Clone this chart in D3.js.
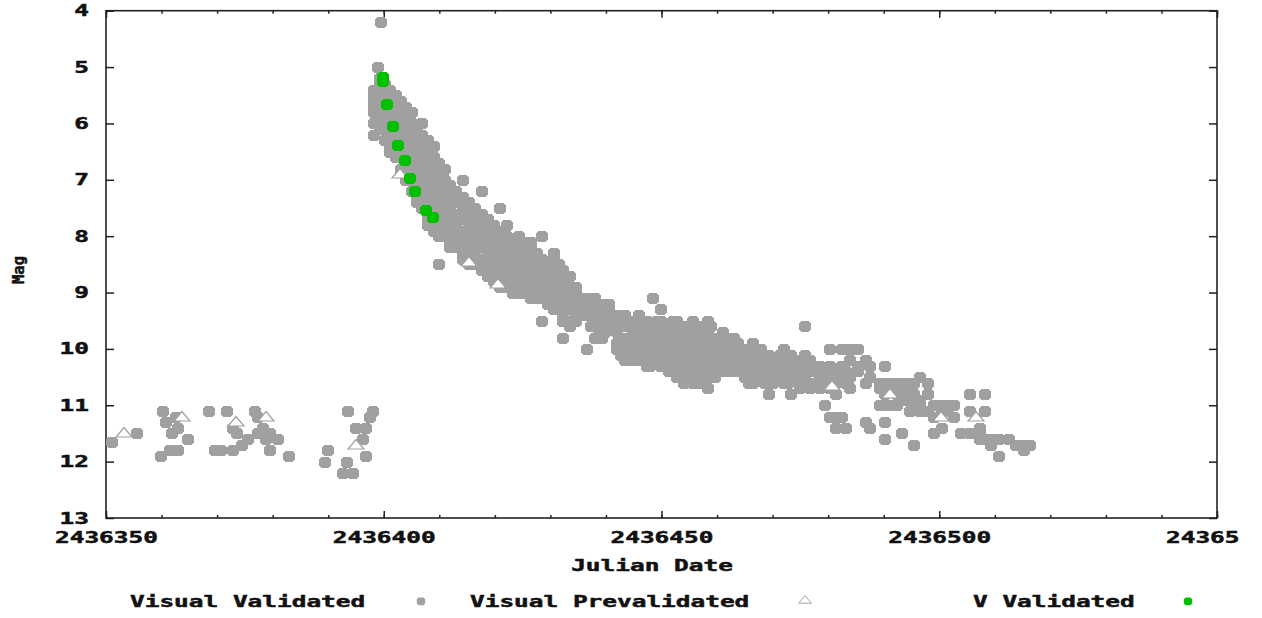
<!DOCTYPE html>
<html>
<head>
<meta charset="utf-8">
<script src="https://d3js.org/d3.v7.min.js"></script>
<style>
body { margin: 0; background: #fff; }
svg text { font-family: 'DejaVu Sans Mono', monospace; font-weight: bold; font-size: 15px; fill: #111; stroke: #111; stroke-width: 0.45px; }
</style>
</head>
<body>
<svg id="chart"></svg>
<script>
// day offsets are JD - 2436350
const JD0 = 2436350;

// Visual Validated: [day, [mags observed that night]]
const visualNights = [
  [1.1, [11.65]], [5.6, [11.5]], [9.9, [11.9]], [10.3, [11.1]], [10.8, [11.3]],
  [11.5, [11.8]], [11.9, [11.5]], [12.6, [11.2]], [13.0, [11.4, 11.8]], [14.8, [11.6]],
  [18.5, [11.1]], [19.6, [11.8]], [20.7, [11.8]], [21.8, [11.1]], [22.9, [11.4, 11.8]],
  [23.6, [11.5]], [24.5, [11.7]], [25.6, [11.6]], [26.8, [11.1]], [27.4, [11.2, 11.5]],
  [28.3, [11.4]], [28.8, [11.5, 11.6]], [29.5, [11.5, 11.8]], [31.0, [11.6]], [32.9, [11.9]],
  [39.4, [12.0]], [40.0, [11.8]], [42.7, [12.2]], [43.4, [12.0]], [43.6, [11.1]],
  [44.5, [12.2]], [45.0, [11.4]], [46.3, [11.6]], [46.8, [11.4, 11.9]], [47.5, [11.2]], [48.1, [11.1]],
  [48.2, [5.4, 5.5, 5.6, 5.7, 5.8, 6.0, 6.2]], [49.0, [5.0]], [49.5, [4.2]],
  [49.3, [5.2, 5.3, 5.4, 5.5, 5.6, 5.7, 5.8, 5.9, 6.1]],
  [50.3, [5.3, 5.5, 5.7, 5.9, 6.1, 6.3]],
  [51.2, [5.4, 5.6, 5.8, 6.0, 6.2, 6.4, 6.5]],
  [52.2, [5.5, 5.7, 5.9, 6.1, 6.3, 6.5, 6.6]],
  [53.1, [5.6, 5.8, 6.0, 6.2, 6.4, 6.6, 6.8]],
  [54.0, [5.7, 5.9, 6.1, 6.3, 6.5, 6.7, 6.9, 7.0]],
  [55.0, [5.8, 6.0, 6.2, 6.4, 6.6, 6.8, 7.0, 7.2]],
  [56.0, [6.1, 6.3, 6.5, 6.7, 6.9, 7.1, 7.3, 7.4]],
  [56.9, [6.0, 6.2, 6.4, 6.6, 6.8, 7.0, 7.2, 7.4, 7.5]],
  [58.0, [6.3, 6.5, 6.7, 6.9, 7.1, 7.3, 7.5, 7.7, 7.8]],
  [59.0, [6.4, 6.6, 6.8, 7.0, 7.2, 7.4, 7.6, 7.8, 7.9]],
  [60.0, [6.7, 6.9, 7.1, 7.3, 7.5, 7.7, 7.9, 8.0, 8.5]],
  [61.0, [6.8, 7.0, 7.2, 7.4, 7.6, 7.8, 8.0]],
  [62.0, [7.1, 7.3, 7.5, 7.7, 7.9, 8.1, 8.2]],
  [63.0, [7.2, 7.4, 7.6, 7.8, 8.0, 8.2]],
  [64.2, [7.0, 7.3, 7.5, 7.7, 7.9, 8.1, 8.3, 8.4]],
  [65.3, [7.4, 7.6, 7.8, 8.0, 8.2, 8.4, 8.5]],
  [65.9, [7.6, 7.8, 8.0, 8.2, 8.4]],
  [66.4, [7.5, 7.7, 7.9, 8.1, 8.3, 8.5]],
  [67.6, [7.2, 7.6, 7.8, 8.0, 8.2, 8.4, 8.6]],
  [68.1, [7.8, 8.0, 8.2, 8.4, 8.6]],
  [68.7, [7.7, 7.9, 8.1, 8.3, 8.5, 8.7]],
  [69.8, [7.8, 8.0, 8.2, 8.4, 8.6, 8.8]],
  [70.4, [8.0, 8.2, 8.4, 8.6, 8.8]],
  [71.0, [7.5, 7.9, 8.1, 8.3, 8.5, 8.7, 8.9]],
  [72.1, [7.8, 8.0, 8.2, 8.4, 8.6, 8.8, 8.9]],
  [72.7, [8.1, 8.3, 8.5, 8.7]],
  [73.2, [8.1, 8.3, 8.5, 8.7, 8.9, 9.0]],
  [74.4, [8.0, 8.2, 8.4, 8.6, 8.8, 9.0]],
  [75.0, [8.2, 8.4, 8.6, 8.8]],
  [75.5, [8.1, 8.3, 8.5, 8.7, 8.9, 9.0]],
  [76.5, [8.1, 8.2, 8.4, 8.6, 8.8, 9.0, 9.1]],
  [77.1, [8.4, 8.6, 8.8, 9.0]],
  [77.6, [8.3, 8.5, 8.7, 8.9, 9.1]],
  [78.4, [8.0, 8.4, 8.6, 8.8, 9.0, 9.1, 9.5]],
  [79.1, [8.6, 8.8, 9.0]],
  [79.6, [8.5, 8.7, 8.9, 9.1, 9.2]],
  [80.6, [8.3, 8.4, 8.6, 8.8, 9.0, 9.2, 9.3]],
  [81.5, [8.5, 8.7, 8.9, 9.1, 9.3]],
  [82.3, [8.6, 8.8, 9.0, 9.2, 9.4, 9.5, 9.8]],
  [83.5, [8.7, 8.9, 9.1, 9.3, 9.5, 9.6]],
  [84.6, [8.9, 9.0, 9.2, 9.4, 9.5]],
  [85.8, [9.1, 9.3, 9.4]],
  [86.6, [9.1, 9.2, 9.4, 10.0]],
  [87.3, [9.2, 9.4, 9.6]],
  [88.0, [9.1, 9.3, 9.5, 9.6, 9.8]],
  [88.7, [9.2, 9.4, 9.7]],
  [89.3, [9.2, 9.4, 9.6, 9.8]],
  [89.9, [9.3, 9.5, 9.7]],
  [90.5, [9.2, 9.3, 9.5]],
  [91.2, [9.4, 9.6]],
  [92.0, [9.5, 9.7, 9.9, 10.0]],
  [92.7, [9.4, 9.6, 9.8, 10.0, 10.1]],
  [93.4, [9.4, 9.6, 9.8, 10.0, 10.2]],
  [94.1, [9.6, 9.8, 10.0, 10.2]],
  [94.8, [9.5, 9.7, 9.9, 10.1]],
  [95.3, [9.6, 9.8, 10.0, 10.2]],
  [95.9, [9.4, 9.6, 9.8, 10.0, 10.2]],
  [96.6, [9.5, 9.7, 9.9, 10.1, 10.2]],
  [97.4, [9.5, 9.7, 9.9, 10.1, 10.3]],
  [98.0, [9.6, 9.8, 10.0, 10.2, 10.3]],
  [98.5, [9.1, 9.6, 9.8, 10.0, 10.2]],
  [99.2, [9.5, 9.7, 9.9, 10.1]],
  [99.9, [9.3, 9.5, 9.7, 9.9, 10.1, 10.3]],
  [100.6, [9.6, 9.8, 10.0, 10.2, 10.3]],
  [101.4, [9.6, 9.8, 10.0, 10.2, 10.4]],
  [102.1, [9.5, 9.7, 9.9, 10.1, 10.3, 10.4]],
  [102.8, [9.5, 9.7, 9.9, 10.1, 10.3, 10.5]],
  [103.4, [9.6, 9.8, 10.0, 10.2, 10.4]],
  [104.1, [9.6, 9.8, 10.0, 10.2, 10.4, 10.6]],
  [104.8, [9.7, 9.9, 10.1, 10.3, 10.5]],
  [105.6, [9.5, 9.7, 9.9, 10.1, 10.3, 10.5, 10.6]],
  [106.3, [9.6, 9.8, 10.0, 10.2, 10.4, 10.5]],
  [107.0, [9.6, 9.8, 10.0, 10.2, 10.4, 10.6]],
  [107.6, [9.7, 9.9, 10.1, 10.3, 10.5]],
  [108.3, [9.5, 9.7, 9.9, 10.1, 10.3, 10.5, 10.7]],
  [108.9, [9.6, 9.8, 10.0, 10.2, 10.4]],
  [109.6, [9.8, 10.0, 10.2, 10.4, 10.5]],
  [110.3, [9.8, 10.0, 10.2, 10.4]],
  [111.0, [9.7, 9.9, 10.1, 10.3, 10.4]],
  [111.7, [9.9, 10.1, 10.3]],
  [112.4, [9.8, 10.0, 10.2, 10.4]],
  [113.1, [9.8, 10.0, 10.2, 10.4]],
  [113.8, [9.9, 10.1, 10.3]],
  [114.4, [10.0, 10.2, 10.4]],
  [115.1, [10.0, 10.2, 10.4, 10.5]],
  [115.8, [10.0, 10.2, 10.4, 10.6]],
  [116.5, [9.9, 10.1, 10.3, 10.5, 10.6]],
  [117.2, [10.1, 10.3, 10.5]],
  [117.9, [10.0, 10.2, 10.4]],
  [118.6, [10.1, 10.2, 10.4, 10.6]],
  [119.3, [10.1, 10.3, 10.5, 10.8]],
  [120.0, [10.2, 10.4, 10.6]],
  [120.7, [10.2, 10.4, 10.5]],
  [121.4, [10.1, 10.3, 10.5]],
  [122.1, [10.0, 10.2, 10.4, 10.6]],
  [122.8, [10.2, 10.4, 10.6]],
  [123.4, [10.1, 10.3, 10.5, 10.8]],
  [124.2, [10.2, 10.3, 10.5]],
  [124.9, [10.2, 10.4, 10.6, 10.7]],
  [125.8, [9.6, 10.1, 10.3, 10.5]],
  [126.7, [10.2, 10.4, 10.6, 10.7]],
  [128.5, [10.3, 10.5, 10.7]],
  [129.4, [10.4, 10.6, 11.0]],
  [130.3, [10.0, 10.3, 10.5, 10.7, 11.2]],
  [131.5, [10.4, 10.6, 10.8, 11.2, 11.4]],
  [132.5, [10.0, 10.3, 10.5, 11.2]],
  [133.3, [10.4, 10.6, 11.4]],
  [134.0, [10.0, 10.2, 10.5, 10.7]],
  [135.4, [10.0, 10.3, 10.4]],
  [136.8, [10.2, 10.6, 11.3]],
  [137.5, [10.3, 10.5, 11.4]],
  [139.3, [10.6, 10.7, 11.0]],
  [140.2, [10.3, 10.6, 10.8, 11.0, 11.3, 11.6]],
  [141.1, [10.6, 10.7, 11.0]],
  [142.4, [10.6, 10.8, 11.0]],
  [143.3, [10.6, 10.8, 10.9, 11.5]],
  [144.7, [10.6, 10.8, 10.9, 11.1]],
  [145.5, [10.6, 10.8, 11.0, 11.7]],
  [146.5, [10.5, 10.9, 11.0, 11.1]],
  [148.0, [10.6, 10.8, 11.1]],
  [149.0, [11.0, 11.2, 11.5]],
  [150.5, [11.0, 11.1, 11.4]],
  [151.5, [11.0, 11.1]],
  [152.6, [11.0, 11.2]],
  [154.0, [11.5]],
  [155.5, [10.8, 11.1, 11.5]],
  [157.3, [11.4, 11.5, 11.6]],
  [158.3, [10.8, 11.1, 11.6]],
  [159.4, [11.6, 11.7]],
  [160.8, [11.6, 11.9]],
  [162.6, [11.6]],
  [163.8, [11.7]],
  [165.2, [11.7, 11.8]],
  [166.4, [11.7]]
];

// Visual Prevalidated: [day, mag]
const visualPrevalidated = [
  [3.2, 11.5], [13.7, 11.2], [23.4, 11.3], [28.8, 11.2], [45.0, 11.7],
  [52.9, 6.9], [65.3, 8.45], [70.6, 8.85], [130.7, 10.65], [141.1, 10.8],
  [150.3, 11.2], [156.6, 11.2]
];

// V Validated: [day, mag]
const vValidated = [
  [49.9, 5.17], [49.9, 5.25], [50.6, 5.65], [51.7, 6.05], [52.6, 6.38],
  [53.8, 6.65], [54.7, 6.97], [55.6, 7.19], [57.6, 7.53], [58.9, 7.66]
];

const xTickValues = [2436350, 2436400, 2436450, 2436500, 2436550];
const xTickLabels = ["2436350", "2436400", "2436450", "2436500", "24365"];
const yTickValues = [4, 5, 6, 7, 8, 9, 10, 11, 12, 13];

const W = 1262, H = 618;
const plotL = 106, plotR = 1217, plotT = 10.7, plotB = 518;
const CHAR_W = 14.7;
const GRAY = "#a0a0a0", GREEN = "#00c000", INK = "#222";

const svg = d3.select("#chart").attr("width", W).attr("height", H);

const x = d3.scaleLinear().domain([JD0, JD0 + 200]).range([plotL, plotR]);
const y = d3.scaleLinear().domain([4, 13]).range([plotT, plotB]);

const stretch = sel => sel.attr("textLength", function() { return this.textContent.length * CHAR_W; })
  .attr("lengthAdjust", "spacingAndGlyphs");

// axes: ticks pointing inward on all four sides
const minorX = d3.range(JD0, JD0 + 201, 10);
const noDomain = g => g.select(".domain").remove();
svg.append("g").attr("transform", `translate(0,${plotB})`)
  .call(d3.axisTop(x).tickValues(minorX).tickSize(3).tickFormat("")).call(noDomain);
svg.append("g").attr("transform", `translate(0,${plotT})`)
  .call(d3.axisBottom(x).tickValues(minorX).tickSize(3).tickFormat("")).call(noDomain);
svg.append("g").attr("transform", `translate(0,${plotB})`)
  .call(d3.axisTop(x).tickValues(xTickValues).tickSize(7).tickFormat("")).call(noDomain);
svg.append("g").attr("transform", `translate(0,${plotT})`)
  .call(d3.axisBottom(x).tickValues(xTickValues).tickSize(7).tickFormat("")).call(noDomain);
svg.append("g").attr("transform", `translate(${plotL},0)`)
  .call(d3.axisRight(y).tickValues(yTickValues).tickSize(8).tickFormat("")).call(noDomain);
svg.append("g").attr("transform", `translate(${plotR},0)`)
  .call(d3.axisLeft(y).tickValues(yTickValues).tickSize(8).tickFormat("")).call(noDomain);
svg.selectAll(".tick line").attr("stroke", INK).attr("stroke-width", 1.5);

svg.append("rect")
  .attr("x", plotL).attr("y", plotT)
  .attr("width", plotR - plotL).attr("height", plotB - plotT)
  .attr("fill", "none").attr("stroke", INK).attr("stroke-width", 1.6);

// tick labels
svg.append("g").selectAll("text").data(xTickValues).join("text")
  .attr("x", d => x(d) - 51).attr("y", 543)
  .text((d, i) => xTickLabels[i])
  .call(stretch);
svg.append("g").selectAll("text").data(yTickValues).join("text")
  .attr("x", 89).attr("y", d => y(d) + 5.5)
  .attr("text-anchor", "end")
  .text(d => d)
  .call(stretch);

svg.append("text").attr("x", 652).attr("y", 571).attr("text-anchor", "middle")
  .text("Julian Date").call(stretch);
svg.append("text").attr("transform", "translate(24,270) rotate(-90)")
  .attr("text-anchor", "middle").text("Mag")
  .attr("textLength", 28).attr("lengthAdjust", "spacingAndGlyphs");

// markers: blocky gnuplot-style dot and open triangle
const blob = "M-4,-5H4V-4H5V-3H6V4H5V5H4V6H-4V5H-5V4H-6V-3H-5V-4H-4Z";
const tri = "M0,-5.5L8,4H-8Z";

const visualPoints = visualNights.flatMap(([d, mags]) => mags.map(m => [d, m]));
const at = d => `translate(${Math.round(x(JD0 + d[0]))},${Math.round(y(d[1]))})`;

svg.append("g").attr("shape-rendering", "crispEdges")
  .selectAll("path").data(visualPoints).join("path")
  .attr("d", blob).attr("transform", at).attr("fill", GRAY);

svg.append("g").selectAll("path").data(visualPrevalidated).join("path")
  .attr("d", tri).attr("transform", at)
  .attr("fill", "#fff").attr("stroke", GRAY).attr("stroke-width", 1.2);

svg.append("g").attr("shape-rendering", "crispEdges")
  .selectAll("path").data(vValidated).join("path")
  .attr("d", blob).attr("transform", at).attr("fill", GREEN);

// legend
const legend = [
  { label: "Visual Validated", tx: 130, mx: 421, kind: "blob", color: GRAY },
  { label: "Visual Prevalidated", tx: 470, mx: 805, kind: "tri", color: GRAY },
  { label: "V Validated", tx: 973, mx: 1188, kind: "blob", color: GREEN }
];
const lg = svg.append("g").selectAll("g").data(legend).join("g");
lg.append("text").attr("x", d => d.tx).attr("y", 607).text(d => d.label).call(stretch);
lg.filter(d => d.kind === "blob").append("path")
  .attr("d", blob).attr("transform", d => `translate(${d.mx},601) scale(0.7)`)
  .attr("fill", d => d.color);
lg.filter(d => d.kind === "tri").append("path")
  .attr("d", tri).attr("transform", d => `translate(${d.mx},600) scale(0.8)`)
  .attr("fill", "#fff").attr("stroke", d => d.color).attr("stroke-width", 1.2);
</script>
</body>
</html>
